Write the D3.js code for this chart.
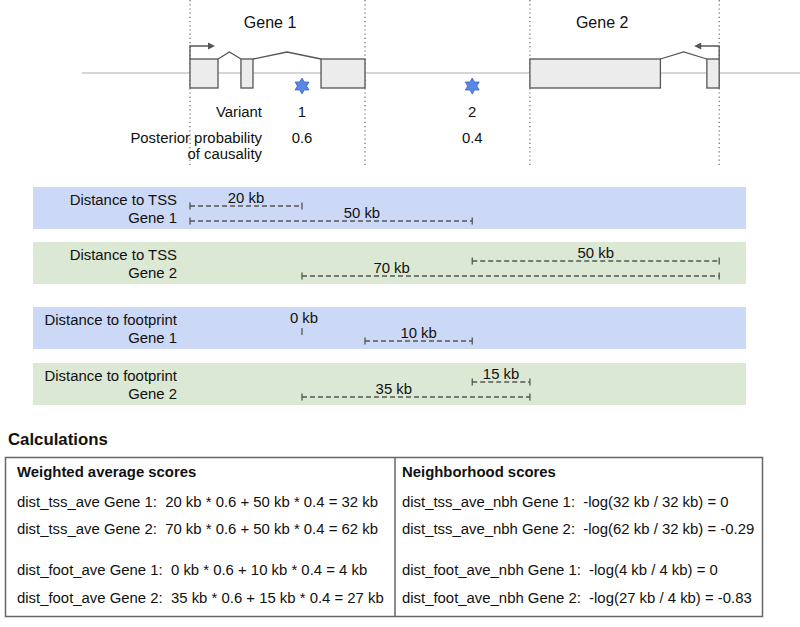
<!DOCTYPE html>
<html><head><meta charset="utf-8">
<script src="https://cdn.jsdelivr.net/npm/d3@7"></script>
<style>
html,body{margin:0;padding:0;background:#fff;}
svg{display:block;font-family:"Liberation Sans",Arial,Helvetica,sans-serif;}
</style></head>
<body><svg id="c" width="800" height="627"></svg>
<script>
// ---- data (genomic positions in schematic kb units) ----
const locusRange = [-19.3, 109];
const geneNames = ["Gene 1", "Gene 2"];
const geneLabelAt = [14.3, 73.6];
const geneStart = [0, 60.7];
const geneEnd = [31.25, 94.5];
const geneTSS = [0, 94.5];
const geneStrand = [1, -1];
const exonStarts = [[0, 9.1, 23.4], [60.7, 92.3]];
const exonEnds = [[5, 11.25, 31.25], [84, 94.5]];
const variantIds = ["1", "2"];
const variantPos = [20, 50.4];
const posterior = [0.6, 0.4];
const featureLabels = ["Distance to TSS", "Distance to TSS", "Distance to footprint", "Distance to footprint"];
const featureGene = [0, 1, 0, 1];
const featureType = ["tss", "tss", "foot", "foot"];
const distV1 = [20, 70, 0, 35];   // kb, variant 1
const distV2 = [50, 50, 10, 15];  // kb, variant 2
const labelAtV1 = [null, 36, null, 36.4];
const labelAtV2 = [30.7, null, null, null];
const calcLeftTitle = "Weighted average scores";
const calcLeft = [
  "dist_tss_ave Gene 1:  20 kb * 0.6 + 50 kb * 0.4 = 32 kb",
  "dist_tss_ave Gene 2:  70 kb * 0.6 + 50 kb * 0.4 = 62 kb",
  "dist_foot_ave Gene 1:  0 kb * 0.6 + 10 kb * 0.4 = 4 kb",
  "dist_foot_ave Gene 2:  35 kb * 0.6 + 15 kb * 0.4 = 27 kb"
];
const calcRightTitle = "Neighborhood scores";
const calcRight = [
  "dist_tss_ave_nbh Gene 1:  -log(32 kb / 32 kb) = 0",
  "dist_tss_ave_nbh Gene 2:  -log(62 kb / 32 kb) = -0.29",
  "dist_foot_ave_nbh Gene 1:  -log(4 kb / 4 kb) = 0",
  "dist_foot_ave_nbh Gene 2:  -log(27 kb / 4 kb) = -0.83"
];

// ---- drawing ----
const svg = d3.select("#c");
const x = d3.scaleLinear().domain([0, 100]).range([190, 750]);
const FS = 14.9;
const dark = "#555";

// genome line
svg.append("line").attr("x1", x(locusRange[0])).attr("x2", x(locusRange[1]))
  .attr("y1", 73).attr("y2", 73).attr("stroke", "#c8c8c8").attr("stroke-width", 1.5);

// dotted gene boundaries
geneNames.forEach((g, i) => {
  [geneStart[i], geneEnd[i]].forEach(p => {
    svg.append("line").attr("x1", x(p)).attr("x2", x(p)).attr("y1", 0).attr("y2", 168)
      .attr("stroke", "#666").attr("stroke-width", 1.2).attr("stroke-dasharray", "1.2,3");
  });
  svg.append("text").attr("x", x(geneLabelAt[i])).attr("y", 28).attr("text-anchor", "middle")
    .attr("font-size", 16).attr("fill", "#111").text(g);
});

// gene models
geneNames.forEach((g, i) => {
  const s = exonStarts[i], e = exonEnds[i];
  for (let k = 0; k < s.length - 1; k++) {
    const a = e[k], b = s[k + 1], m = (a + b) / 2;
    svg.append("path").attr("d", d3.line()([[x(a), 59], [x(m), 52], [x(b), 59]]))
      .attr("fill", "none").attr("stroke", dark).attr("stroke-width", 1.3);
  }
  s.forEach((st, k) => {
    svg.append("rect").attr("x", x(st)).attr("y", 59).attr("width", x(e[k]) - x(st)).attr("height", 29)
      .attr("fill", "#ececec").attr("stroke", dark).attr("stroke-width", 1.3);
  });
  const tx = x(geneTSS[i]), dir = geneStrand[i];
  const tipX = tx + dir * 25;
  svg.append("path").attr("d", d3.line()([[tx, 59], [tx, 46], [tipX - dir * 5, 46]]))
    .attr("fill", "none").attr("stroke", dark).attr("stroke-width", 1.3);
  svg.append("path").attr("d", d3.line()([[tipX, 46], [tipX - dir * 7, 42.5], [tipX - dir * 7, 49.5]]) + "Z")
    .attr("fill", dark);
});

// variants
const starPts = d3.range(12).map(k => [k * Math.PI / 6, k % 2 === 0 ? 8 : 4.6]);
const star = d3.lineRadial().curve(d3.curveLinearClosed);
variantIds.forEach((v, i) => {
  svg.append("path").attr("d", star(starPts)).attr("transform", `translate(${x(variantPos[i])},86)`)
    .attr("fill", "#5a86e6").attr("stroke", "#3b62c4").attr("stroke-width", 0.8);
  svg.append("text").attr("x", x(variantPos[i])).attr("y", 117).attr("text-anchor", "middle")
    .attr("font-size", FS).attr("fill", "#111").text(v);
  svg.append("text").attr("x", x(variantPos[i])).attr("y", 143).attr("text-anchor", "middle")
    .attr("font-size", FS).attr("fill", "#111").text(posterior[i]);
});
svg.append("text").attr("x", 262).attr("y", 117).attr("text-anchor", "end").attr("font-size", FS).attr("fill", "#111").text("Variant");
svg.append("text").attr("x", 262).attr("y", 143).attr("text-anchor", "end").attr("font-size", FS).attr("fill", "#111").text("Posterior probability");
svg.append("text").attr("x", 262).attr("y", 159).attr("text-anchor", "end").attr("font-size", FS).attr("fill", "#111").text("of causality");

// distance bands
const bandTops = [187, 242, 307, 363];
const bandColors = ["#cbd8f6", "#dbe8d4", "#cbd8f6", "#dbe8d4"];
function segment(type, gi, pos) {
  if (type === "tss") return [geneTSS[gi], pos];
  if (pos >= geneStart[gi] && pos <= geneEnd[gi]) return [pos, pos];
  return pos < geneStart[gi] ? [pos, geneStart[gi]] : [geneEnd[gi], pos];
}
featureLabels.forEach((lab, b) => {
  const top = bandTops[b];
  svg.append("rect").attr("x", 33).attr("y", top).attr("width", 713).attr("height", 42).attr("fill", bandColors[b]);
  svg.append("text").attr("x", 177).attr("y", top + 18).attr("text-anchor", "end").attr("font-size", FS).attr("fill", "#111").text(lab);
  svg.append("text").attr("x", 177).attr("y", top + 36).attr("text-anchor", "end").attr("font-size", FS).attr("fill", "#111").text(geneNames[featureGene[b]]);
  const rows = [
    { d: distV1[b], seg: segment(featureType[b], featureGene[b], variantPos[0]), la: labelAtV1[b] },
    { d: distV2[b], seg: segment(featureType[b], featureGene[b], variantPos[1]), la: labelAtV2[b] }
  ].sort((p, q) => p.d - q.d);
  rows.forEach((r, k) => {
    const y = top + (k === 0 ? 19 : 34);
    const x1 = x(d3.min(r.seg)), x2 = x(d3.max(r.seg));
    const g = svg.append("g").attr("stroke", dark).attr("stroke-width", 1.3);
    if (x2 - x1 > 0.5) {
      g.append("line").attr("x1", x1).attr("x2", x2).attr("y1", y).attr("y2", y).attr("stroke-dasharray", "5,3");
      g.append("line").attr("x1", x1).attr("x2", x1).attr("y1", y - 3.5).attr("y2", y + 3.5);
      g.append("line").attr("x1", x2).attr("x2", x2).attr("y1", y - 3.5).attr("y2", y + 3.5);
    } else {
      g.append("line").attr("x1", x1).attr("x2", x1).attr("y1", y + 2).attr("y2", y + 9);
    }
    const lx = r.la == null ? (x1 + x2) / 2 + (x2 - x1 > 0.5 ? 0 : 2) : x(r.la);
    svg.append("text").attr("x", lx).attr("y", y - 3).attr("text-anchor", "middle")
      .attr("font-size", FS).attr("fill", "#111").text(r.d + " kb");
  });
});

// calculations
svg.append("text").attr("x", 8).attr("y", 445).attr("font-size", 16.8).attr("font-weight", "bold").attr("fill", "#111").text("Calculations");
svg.append("rect").attr("x", 5.5).attr("y", 457.5).attr("width", 757).attr("height", 159).attr("fill", "none").attr("stroke", "#666").attr("stroke-width", 1.5);
svg.append("line").attr("x1", 395).attr("x2", 395).attr("y1", 457.5).attr("y2", 616.5).attr("stroke", "#666").attr("stroke-width", 1.5);
const lineYs = [507, 534, 575, 603];
[[17, calcLeftTitle, calcLeft], [402, calcRightTitle, calcRight]].forEach(([cx, title, lines]) => {
  svg.append("text").attr("x", cx).attr("y", 477).attr("font-size", FS).attr("font-weight", "bold").attr("fill", "#111").text(title);
  lines.forEach((t, k) => {
    svg.append("text").attr("x", cx).attr("y", lineYs[k]).attr("font-size", FS).attr("fill", "#111")
      .attr("xml:space", "preserve").style("white-space", "pre").text(t);
  });
});
</script></body></html>
